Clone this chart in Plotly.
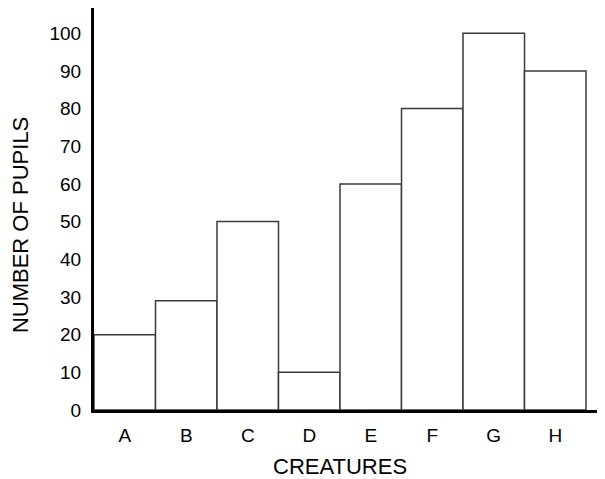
import plotly.graph_objects as go

categories = ["A", "B", "C", "D", "E", "F", "G", "H"]
pupils = [20, 29, 50, 10, 60, 80, 100, 90]
y_ticks = [0, 10, 20, 30, 40, 50, 60, 70, 80, 90, 100]

x_idx = list(range(len(categories)))

fig = go.Figure(go.Bar(
    x=x_idx,
    y=pupils,
    width=1.0,
    marker=dict(color="white", line=dict(color="#3a3a3a", width=1.5)),
))

FONT = "Liberation Sans, Arial, sans-serif"

fig.update_layout(
    width=597, height=471,
    margin=dict(l=86, r=3, t=0, b=69),
    paper_bgcolor="white", plot_bgcolor="white",
    showlegend=False,
    font=dict(family=FONT, size=19, color="black"),
    xaxis=dict(
        range=[-0.5, 7.76],
        tickmode="array", tickvals=x_idx, ticktext=categories,
        showgrid=False, zeroline=False,
        showline=True, linecolor="black", linewidth=3,
        ticks="", ticklabelstandoff=6,
        tickfont=dict(family=FONT, size=19, color="black"),
    ),
    yaxis=dict(
        range=[0, 106.7],
        tickmode="array", tickvals=y_ticks,
        showgrid=False, zeroline=False,
        showline=True, linecolor="black", linewidth=3,
        ticks="", ticklabelstandoff=6,
        tickfont=dict(family=FONT, size=19, color="black"),
    ),
    annotations=[
        dict(text="CREATURES", xref="x", yref="paper", x=3.5, y=0,
             yshift=-56, showarrow=False, xanchor="center", yanchor="middle",
             font=dict(family=FONT, size=22, color="black")),
        dict(text="NUMBER OF PUPILS", xref="paper", yref="paper", x=0, y=0.46,
             xshift=-74, showarrow=False, textangle=-90,
             xanchor="center", yanchor="middle",
             font=dict(family=FONT, size=22, color="black")),
    ],
)

fig.write_html("out.html")
